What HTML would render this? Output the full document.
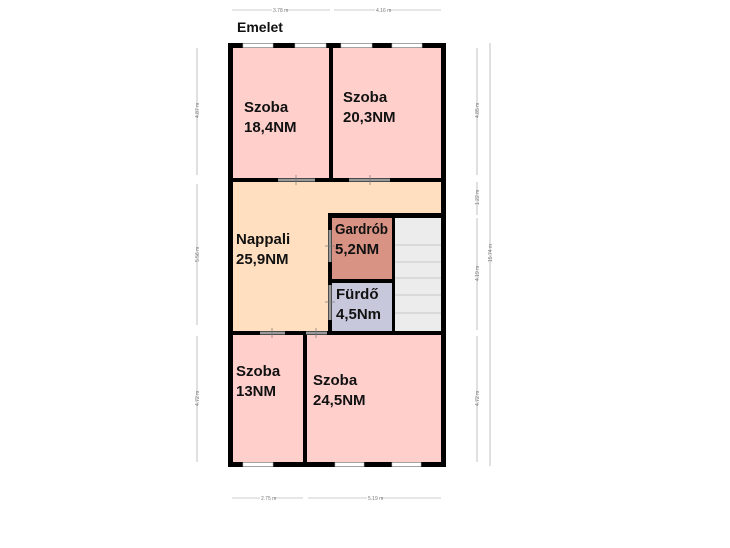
<!DOCTYPE html>
<html><head><meta charset="utf-8"><style>
html,body{margin:0;padding:0;background:#fff;width:730px;height:548px;overflow:hidden}
svg{display:block}
.l{font-family:"Liberation Sans",sans-serif;font-weight:bold;font-size:15px;fill:#111}
.d{font-family:"Liberation Sans",sans-serif;font-size:5px;fill:#777}
</style></head><body>
<svg width="730" height="548" viewBox="0 0 730 548" xmlns="http://www.w3.org/2000/svg">
<rect x="230" y="45" width="213" height="419" fill="#ffcfcc"/>
<rect x="230" y="180" width="213" height="153" fill="#ffdfc0"/>
<rect x="330" y="216" width="64" height="65" fill="#d99384"/>
<rect x="330" y="281" width="64" height="51" fill="#c8c8dc"/>
<rect x="394" y="216" width="49" height="116" fill="#ececec"/>
<g stroke="#c8c8c8" stroke-width="1">
<line x1="395" y1="245" x2="441" y2="245"/><line x1="395" y1="262" x2="441" y2="262"/>
<line x1="395" y1="278" x2="441" y2="278"/><line x1="395" y1="295" x2="441" y2="295"/>
<line x1="395" y1="313" x2="441" y2="313"/>
</g>
<g fill="#000">
<rect x="228" y="43" width="218" height="5"/>
<rect x="228" y="462" width="218" height="5"/>
<rect x="228" y="43" width="5" height="424"/>
<rect x="441" y="43" width="5" height="424"/>
<rect x="329" y="43" width="4" height="139"/>
<rect x="228" y="178" width="218" height="4"/>
<rect x="328" y="213" width="118" height="5"/>
<rect x="328" y="213" width="4" height="122"/>
<rect x="392" y="213" width="3" height="122"/>
<rect x="328" y="279" width="67" height="4"/>
<rect x="228" y="331" width="218" height="4"/>
<rect x="303" y="331" width="4" height="136"/>
</g>
<g fill="#fff" stroke="#bbb" stroke-width="0.6">
<rect x="243" y="43.5" width="30" height="4"/><rect x="295" y="43.5" width="31" height="4"/>
<rect x="341" y="43.5" width="31" height="4"/><rect x="392" y="43.5" width="30" height="4"/>
<rect x="243" y="462.5" width="30" height="4"/><rect x="335" y="462.5" width="29" height="4"/>
<rect x="392" y="462.5" width="29" height="4"/>
</g>
<g fill="#999">
<rect x="278" y="178.5" width="37" height="3"/><rect x="349" y="178.5" width="41" height="3"/>
<rect x="260" y="331.5" width="25" height="3"/><rect x="306" y="331.5" width="21" height="3"/>
<rect x="328.5" y="230" width="3" height="32"/><rect x="328.5" y="285" width="3" height="35"/>
</g>
<g stroke="#777" stroke-width="0.7">
<line x1="296" y1="175" x2="296" y2="185"/><line x1="370" y1="175" x2="370" y2="185"/>
<line x1="272" y1="328" x2="272" y2="338"/><line x1="316" y1="328" x2="316" y2="338"/>
<line x1="325" y1="246" x2="335" y2="246"/><line x1="325" y1="302" x2="335" y2="302"/>
</g>
<text class="l" x="237" y="32" style="font-size:14px">Emelet</text>
<text class="l" x="244" y="112">Szoba</text><text class="l" x="244" y="132">18,4NM</text>
<text class="l" x="343" y="102">Szoba</text><text class="l" x="343" y="122">20,3NM</text>
<text class="l" x="236" y="244">Nappali</text><text class="l" x="236" y="264">25,9NM</text>
<text class="l" x="335" y="234" textLength="53" lengthAdjust="spacingAndGlyphs">Gardrób</text><text class="l" x="335" y="254">5,2NM</text>
<text class="l" x="336" y="299">Fürdő</text><text class="l" x="336" y="319">4,5Nm</text>
<text class="l" x="236" y="376">Szoba</text><text class="l" x="236" y="396">13NM</text>
<text class="l" x="313" y="385">Szoba</text><text class="l" x="313" y="405">24,5NM</text>
<g stroke="#999" stroke-width="0.6">
<line x1="232" y1="10" x2="330" y2="10"/><line x1="334" y1="10" x2="441" y2="10"/>
<line x1="232" y1="498" x2="303" y2="498"/><line x1="308" y1="498" x2="441" y2="498"/>
<line x1="197" y1="48" x2="197" y2="175"/><line x1="197" y1="184" x2="197" y2="325"/><line x1="197" y1="336" x2="197" y2="462"/>
<line x1="477" y1="48" x2="477" y2="175"/><line x1="477" y1="182" x2="477" y2="215"/><line x1="477" y1="218" x2="477" y2="330"/><line x1="477" y1="336" x2="477" y2="462"/>
<line x1="490" y1="43" x2="490" y2="466"/>
</g>
<g fill="#fff"><rect x="272" y="7" width="14" height="6"/><rect x="375" y="7" width="14" height="6"/>
<rect x="260" y="495" width="14" height="6"/><rect x="367" y="495" width="14" height="6"/></g>
<text class="d" x="273" y="12">3.78 m</text><text class="d" x="376" y="12">4.16 m</text>
<text class="d" x="261" y="500">2.75 m</text><text class="d" x="368" y="500">5.19 m</text>
<text class="d" transform="translate(199,118) rotate(-90)">4.87 m</text>
<text class="d" transform="translate(199,262) rotate(-90)">5.56 m</text>
<text class="d" transform="translate(199,406) rotate(-90)">4.72 m</text>
<text class="d" transform="translate(479,118) rotate(-90)">4.85 m</text>
<text class="d" transform="translate(479,205) rotate(-90)">1.22 m</text>
<text class="d" transform="translate(479,281) rotate(-90)">4.19 m</text>
<text class="d" transform="translate(479,406) rotate(-90)">4.72 m</text>
<text class="d" transform="translate(492,262) rotate(-90)">15.74 m</text>
</svg>
</body></html>
